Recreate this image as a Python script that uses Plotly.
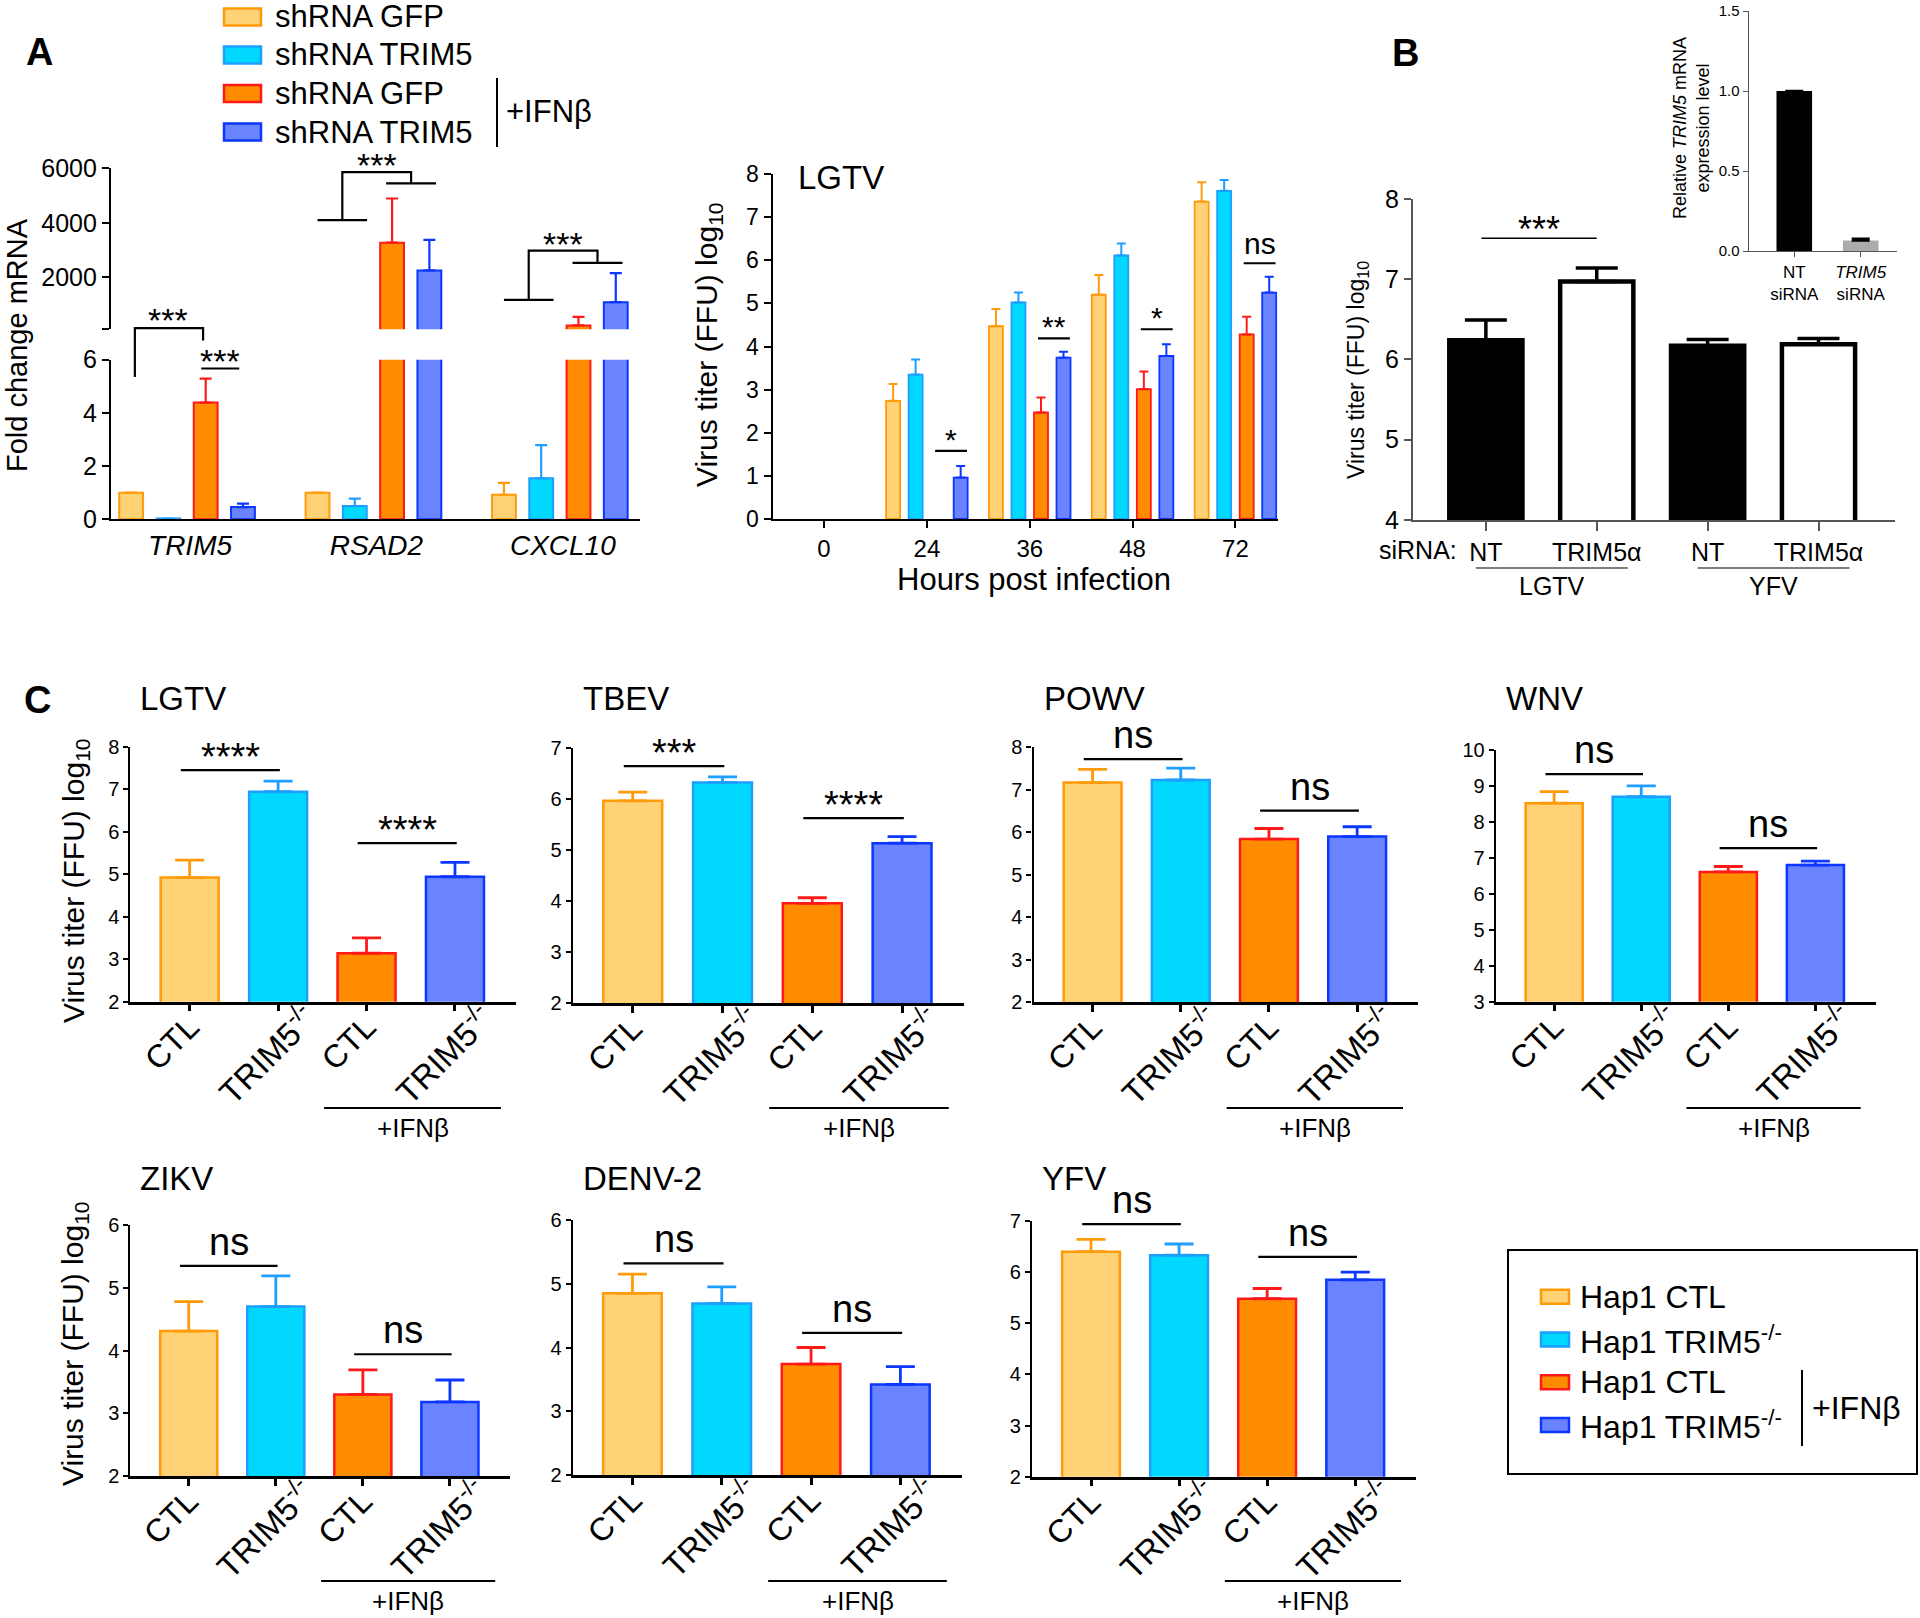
import plotly.graph_objects as go

W, H = 1920, 1618

# condition colours: fill / outline
fills = ["#FFD275", "#00D8FF", "#FF8C00", "#6A84FF"]
edges = ["#FF9A0A", "#1E9EFF", "#FF1A1A", "#0B37FF"]

# ---------------- A: qPCR, fold change ----------------
genes = ["TRIM5", "RSAD2", "CXCL10"]
a_names = ["shRNA GFP", "shRNA TRIM5", "shRNA GFP", "shRNA TRIM5"]
a_gfp = [1.0, 1.0, 0.92]
a_gfp_err = [0, 0, 0.45]
a_trim5 = [0.03, 0.50, 1.54]
a_trim5_err = [0, 0.28, 1.25]
a_gfp_ifn = [4.39, 3276, 240]
a_gfp_ifn_err = [0.90, 1620, 310]
a_trim5_ifn = [0.46, 2255, 1090]
a_trim5_ifn_err = [0.13, 1125, 1070]
# bracket heights
a_trim5_bracket = [5.35, 7.19, 6.72]
a_trim5_pair = 5.67
a_rsad2_bracket = [4100, 5860, 5450]
a_cxcl10_bracket = [1174, 2984, 2530]

# ---------------- A: LGTV time course ----------------
hours = ["0", "24", "36", "48", "72"]
tc_gfp = [None, 2.74, 4.47, 5.20, 7.36]
tc_gfp_err = [None, 0.39, 0.40, 0.46, 0.45]
tc_trim5 = [None, 3.35, 5.02, 6.11, 7.61]
tc_trim5_err = [None, 0.35, 0.23, 0.28, 0.25]
tc_gfp_ifn = [None, None, 2.47, 3.01, 4.28]
tc_gfp_ifn_err = [None, None, 0.35, 0.41, 0.41]
tc_trim5_ifn = [None, 0.96, 3.74, 3.78, 5.25]
tc_trim5_ifn_err = [None, 0.27, 0.14, 0.27, 0.37]
tc_sig = [None, "*", "**", "*", "ns"]
tc_sig_y = [None, 1.58, 4.19, 4.40, 5.93]

# ---------------- B: siRNA ----------------
b_labels = ["NT", "TRIM5α", "NT", "TRIM5α"]
b_viruses = ["LGTV", "YFV"]
b_vals = [6.24, 6.97, 6.17, 6.19]
b_err = [0.25, 0.17, 0.08, 0.07]
b_sig_y = 7.51
inset_labels = ["NT<br>siRNA", "<i>TRIM5</i><br>siRNA"]
inset_vals = [1.0, 0.065]
inset_err = [0, 0.012]

# ---------------- C: knockout cells ----------------
c_viruses = ["LGTV", "TBEV", "POWV", "WNV", "ZIKV", "DENV-2", "YFV"]
c_ctl_tick = "CTL"
c_ko_tick = "TRIM5<sup>-/-</sup>"
c_names = ["Hap1 CTL", "Hap1 TRIM5<sup>-/-</sup>", "Hap1 CTL", "Hap1 TRIM5<sup>-/-</sup>"]
c_ymin = [2, 2, 2, 3, 2, 2, 2]
c_ymax = [8, 7, 8, 10, 6, 6, 7]
c_ctl = [4.92, 5.97, 7.17, 8.52, 4.31, 4.85, 6.40]
c_ctl_err = [0.41, 0.17, 0.31, 0.32, 0.47, 0.30, 0.24]
c_ko = [6.94, 6.33, 7.23, 8.70, 4.70, 4.69, 6.33]
c_ko_err = [0.25, 0.11, 0.28, 0.30, 0.49, 0.26, 0.22]
c_ctl_ifn = [3.14, 3.96, 5.84, 6.61, 3.30, 3.74, 5.48]
c_ctl_ifn_err = [0.36, 0.11, 0.25, 0.15, 0.39, 0.26, 0.20]
c_ko_ifn = [4.94, 5.14, 5.90, 6.80, 3.18, 3.42, 5.85]
c_ko_ifn_err = [0.34, 0.13, 0.23, 0.11, 0.35, 0.28, 0.15]
c_sig1 = ["****", "***", "ns", "ns", "ns", "ns", "ns"]
c_sig1_y = [7.45, 6.65, 7.72, 9.33, 5.35, 5.32, 6.94]
c_sig2 = ["****", "****", "ns", "ns", "ns", "ns", "ns"]
c_sig2_y = [5.73, 5.63, 6.51, 7.27, 3.94, 4.23, 6.30]

FONT = "Liberation Sans, Arial, Helvetica, sans-serif"


def pfx(p):
    return p / W


def pfy(p):
    return 1 - p / H


fig = go.Figure()
lay = {}
ann = []
shp = []


def axis_pair(n, x0, x1, ytop, ybot, xrange, yrange, xstyle=None, ystyle=None):
    s = "" if n == 1 else str(n)
    base = dict(showgrid=False, zeroline=False, fixedrange=True, automargin=False)
    xa = dict(base, domain=[pfx(x0), pfx(x1)], range=xrange, anchor="y" + s)
    ya = dict(base, domain=[pfy(ybot), pfy(ytop)], range=yrange, anchor="x" + s)
    xa.update(xstyle or {})
    ya.update(ystyle or {})
    lay["xaxis" + s] = xa
    lay["yaxis" + s] = ya
    return "x" + s, "y" + s


def line_style(size, color="black", lw=2.2, ticklen=7, ticks="outside"):
    return dict(showline=True, linecolor=color, linewidth=lw, ticks=ticks,
                ticklen=ticklen, tickwidth=lw, tickcolor=color,
                tickfont=dict(size=size, color="black"))


def add_bars(xs, ys, errs, k, xr, yr, width, lw, cap, thick,
             fill=None, edge=None, ecolor=None):
    fig.add_trace(go.Bar(
        x=xs, y=ys, width=width, xaxis=xr, yaxis=yr,
        marker=dict(color=fill if fill is not None else fills[k],
                    line=dict(color=edge if edge is not None else edges[k], width=lw)),
        error_y=dict(type="data", symmetric=False, array=errs,
                     arrayminus=[0] * len(errs),
                     color=ecolor if ecolor is not None else edges[k],
                     thickness=thick, width=cap),
        showlegend=False, hoverinfo="skip"))


def sig(xr, yr, xa, xb, y, label, size, lw=2.2, dy=0):
    shp.append(dict(type="line", xref=xr, yref=yr, x0=xa, x1=xb, y0=y, y1=y,
                    line=dict(color="black", width=lw)))
    star = label.startswith("*")
    ann.append(dict(xref=xr, yref=yr, x=(xa + xb) / 2, y=y, text=label,
                    showarrow=False, yanchor="bottom",
                    yshift=((-0.36 * size + 4) if star else 1) - dy,
                    font=dict(size=size, color="black")))


def txt(x, y, text, size, xanchor="center", angle=0, bold=False):
    ann.append(dict(xref="paper", yref="paper", x=pfx(x), y=pfy(y),
                    text="<b>%s</b>" % text if bold else text, showarrow=False,
                    xanchor=xanchor, yanchor="middle", textangle=angle,
                    font=dict(size=size, color="black")))


# ======================= A left: fold change =======================
a_series = [(a_gfp, a_gfp_err), (a_trim5, a_trim5_err),
            (a_gfp_ifn, a_gfp_ifn_err), (a_trim5_ifn, a_trim5_ifn_err)]
a_xr = [-0.54, 13.65]
xa1, ya1 = axis_pair(
    1, 111, 640, 359.7, 519.3, a_xr, [0, 6],
    xstyle=dict(showline=True, linecolor="black", linewidth=2.2, ticks="",
                tickvals=[g * 5 + 1.5 for g in range(len(genes))],
                ticktext=["<i>%s</i>" % g for g in genes],
                tickfont=dict(size=28, color="black"), ticklabelshift=3),
    ystyle=dict(line_style(25), tickvals=[0, 2, 4, 6]))
xa2, ya2 = axis_pair(
    2, 111, 640, 168.4, 329.2, a_xr, [100, 6000],
    xstyle=dict(visible=False),
    ystyle=dict(line_style(25), tickvals=[100, 2000, 4000, 6000],
                ticktext=["", "2000", "4000", "6000"]))
xa3, ya3 = axis_pair(3, 111, 640, 519.3 - 7.35 * 26.6, 519.3, a_xr, [0, 7.35],
                     xstyle=dict(visible=False), ystyle=dict(visible=False))
fig.add_trace(go.Scatter(x=[None], y=[None], xaxis=xa3, yaxis=ya3,
                         showlegend=False, hoverinfo="skip"))

for k, (vals, errs) in enumerate(a_series):
    xs = [g * 5 + k for g in range(len(genes))]
    add_bars(xs, vals, errs, k, xa1, ya1, 0.64, 2, 6, 2.2)
    add_bars(xs, vals, errs, k, xa2, ya2, 0.64, 2, 6, 2.2)

# TRIM5 brackets (lower segment)
lb, top, rb = a_trim5_bracket
shp.append(dict(type="path", xref=xa3, yref=ya3,
                path="M 0.1,%g L 0.1,%g L 1.93,%g L 1.93,%g" % (lb, top, top, rb),
                line=dict(color="black", width=2.2)))
ann.append(dict(xref=xa3, yref=ya3, x=1.0, y=top, text="***", showarrow=False,
                yanchor="bottom", yshift=-0.36 * 34 - 1, font=dict(size=34, color="black")))
sig(xa3, ya3, 1.88, 2.9, a_trim5_pair, "***", 34, dy=5)


def group_bracket(g, ys, label):
    yl, ytop, yr_ = ys
    l0, l1 = g * 5, g * 5 + 1.33
    r0, r1 = g * 5 + 1.84, g * 5 + 3.18
    lm, rm = (l0 + l1) / 2, (r0 + r1) / 2
    shp.append(dict(type="path", xref=xa2, yref=ya2,
                    path="M %g,%g L %g,%g M %g,%g L %g,%g L %g,%g L %g,%g M %g,%g L %g,%g" % (
                        l0, yl, l1, yl, lm, yl, lm, ytop, rm, ytop, rm, yr_, r0, yr_, r1, yr_),
                    line=dict(color="black", width=2.2)))
    ann.append(dict(xref=xa2, yref=ya2, x=(lm + rm) / 2, y=ytop, text=label,
                    showarrow=False, yanchor="bottom", yshift=-0.36 * 34 - 2,
                    font=dict(size=34, color="black")))


group_bracket(1, a_rsad2_bracket, "***")
group_bracket(2, a_cxcl10_bracket, "***")
txt(17, 345, "Fold change mRNA", 29, angle=-90)

# legend A
a_rows = [17, 55, 93.5, 132]
for k, ry in enumerate(a_rows):
    shp.append(dict(type="rect", xref="paper", yref="paper",
                    x0=pfx(224), x1=pfx(261), y0=pfy(ry + 8.5), y1=pfy(ry - 8.5),
                    fillcolor=fills[k], line=dict(color=edges[k], width=2.5)))
    txt(273, ry, a_names[k], 31, xanchor="left")
shp.append(dict(type="line", xref="paper", yref="paper", x0=pfx(497), x1=pfx(497),
                y0=pfy(78), y1=pfy(147), line=dict(color="black", width=2)))
txt(504, 111, "+IFNβ", 31, xanchor="left")
txt(39, 52, "A", 38, bold=True)

# ======================= A middle: time course =======================
tc_series = [(tc_gfp, tc_gfp_err), (tc_trim5, tc_trim5_err),
             (tc_gfp_ifn, tc_gfp_ifn_err), (tc_trim5_ifn, tc_trim5_ifn_err)]
xa4, ya4 = axis_pair(
    4, 772.6, 1277.6, 174, 519, [-0.5, 4.41], [0, 8],
    xstyle=dict(line_style(24), tickvals=list(range(len(hours))), ticktext=hours),
    ystyle=dict(line_style(23), tickvals=list(range(0, 9))))
step = 0.219
for k, (vals, errs) in enumerate(tc_series):
    xs = [g + (k - 1.5) * step for g in range(len(hours))]
    add_bars(xs, vals, errs, k, xa4, ya4, 0.136, 1.8, 4.5, 2)
for g, lab in enumerate(tc_sig):
    if lab:
        sig(xa4, ya4, g + 0.08, g + 0.39, tc_sig_y[g], lab, 30)
txt(796, 177, "LGTV", 33, xanchor="left")
txt(709, 345, "Virus titer (FFU) log<sub>10</sub>", 30, angle=-90)
txt(1034, 580, "Hours post infection", 31)

# ======================= B: siRNA =======================
gray = "#555555"
xa5, ya5 = axis_pair(
    5, 1412.7, 1895, 198.9, 520, [-0.66, 3.69], [4, 8],
    xstyle=dict(line_style(25, color=gray, lw=1.5, ticklen=9),
                tickvals=list(range(len(b_labels))), ticktext=b_labels),
    ystyle=dict(line_style(25, color=gray, lw=1.5), tickvals=[4, 5, 6, 7, 8]))
add_bars(list(range(len(b_vals))), b_vals, b_err, 0, xa5, ya5, 0.66, 4.5, 21, 3.5,
         fill=["black", "white", "black", "white"], edge="black", ecolor="black")
sig(xa5, ya5, -0.04, 1.0, b_sig_y, "***", 36, lw=1.5, dy=5)
for i, v in enumerate(b_viruses):
    a0, a1 = 2 * i - 0.09, 2 * i + 1.28
    shp.append(dict(type="line", xref=xa5, yref="paper", x0=a0, x1=a1,
                    y0=pfy(568), y1=pfy(568), line=dict(color=gray, width=1.5)))
    ann.append(dict(xref=xa5, yref="paper", x=(a0 + a1) / 2, y=pfy(586), text=v,
                    showarrow=False, yanchor="middle", font=dict(size=25, color="black")))
txt(1418, 550, "siRNA:", 25)
txt(1357, 370, "Virus titer (FFU) log<sub>10</sub>", 23, angle=-90)
txt(1405, 53, "B", 38, bold=True)

# inset
xa6, ya6 = axis_pair(
    6, 1748.8, 1897, 11, 251, [-0.685, 1.547], [0, 1.5],
    xstyle=dict(line_style(17, color=gray, lw=1.3, ticklen=5),
                tickvals=[0, 1], ticktext=inset_labels),
    ystyle=dict(line_style(15, color=gray, lw=1.3, ticklen=5),
                tickvals=[0, 0.5, 1.0, 1.5], ticktext=["0.0", "0.5", "1.0", "1.5"]))
add_bars([0, 1], inset_vals, inset_err, 0, xa6, ya6, 0.536, 0, 9, 2.5,
         fill=["black", "#ABABAB"], edge="black", ecolor="black")
txt(1692, 128, "Relative <i>TRIM5</i> mRNA<br>expression level", 18, angle=-90)

# ======================= C: knockout panels =======================
c_boxes = [(130.4, 516, 746.7, 1001.7), (572.6, 964, 748.3, 1003.3),
           (1033.5, 1418, 747.3, 1002.3), (1495.8, 1875.5, 750, 1001.7),
           (130.4, 510, 1225, 1476), (572.6, 962, 1220, 1475),
           (1032, 1416, 1221, 1476.7)]
c_series = [(c_ctl, c_ctl_err), (c_ko, c_ko_err),
            (c_ctl_ifn, c_ctl_ifn_err), (c_ko_ifn, c_ko_ifn_err)]
c_xr = [-0.67, 3.69]
for j, virus in enumerate(c_viruses):
    x0, x1, yt, yb = c_boxes[j]
    n = 7 + j
    xr, yr = axis_pair(
        n, x0, x1, yt, yb, c_xr, [c_ymin[j], c_ymax[j]],
        xstyle=dict(line_style(32, lw=2.5), tickvals=[0, 1, 2, 3],
                    ticktext=[c_ctl_tick, "", c_ctl_tick, ""],
                    tickangle=-45, ticklabelstandoff=-16),
        ystyle=dict(line_style(20, lw=2.2, ticklen=5),
                    tickvals=list(range(c_ymin[j], c_ymax[j] + 1))))
    # second x axis on top of the first one, carrying the knockout labels
    ko = "xaxis%d" % (n + 20)
    lay[ko] = dict(overlaying=xr, anchor=yr, range=c_xr, showgrid=False, zeroline=False,
                   fixedrange=True, automargin=False, showline=False, ticks="",
                   tickvals=[1, 3], ticktext=[c_ko_tick, c_ko_tick], tickangle=-45,
                   tickfont=dict(size=33, color="black"),
                   ticklabelstandoff=-10, ticklabelshift=29)
    fig.add_trace(go.Scatter(x=[None], y=[None], xaxis="x%d" % (n + 20), yaxis=yr,
                             showlegend=False, hoverinfo="skip"))
    for k, (vals, errs) in enumerate(c_series):
        add_bars([k], [vals[j]], [errs[j]], k, xr, yr, 0.656, 2.5, 14.5, 2.8)
    sig(xr, yr, -0.1, 1.02, c_sig1_y[j], c_sig1[j], 38)
    sig(xr, yr, 1.9, 3.02, c_sig2_y[j], c_sig2[j], 38)
    uy = 1108 if j < 4 else 1581
    shp.append(dict(type="line", xref=xr, yref="paper", x0=1.52, x1=3.52,
                    y0=pfy(uy), y1=pfy(uy), line=dict(color="black", width=2)))
    ann.append(dict(xref=xr, yref="paper", x=2.52, y=pfy(uy + 20), text="+IFNβ",
                    showarrow=False, yanchor="middle", font=dict(size=26, color="black")))
    ty = 698 if j < 4 else 1178
    txt(x0 + 8, ty, virus, 33, xanchor="left")

txt(76, 881, "Virus titer (FFU) log<sub>10</sub>", 30, angle=-90)
txt(74, 1344, "Virus titer (FFU) log<sub>10</sub>", 30, angle=-90)
txt(37, 700, "C", 38, bold=True)

# legend C
shp.append(dict(type="rect", xref="paper", yref="paper", x0=pfx(1508), x1=pfx(1917),
                y0=pfy(1474), y1=pfy(1250), line=dict(color="black", width=2)))
c_rows = [1296.7, 1339.5, 1382.3, 1425]
for k, ry in enumerate(c_rows):
    shp.append(dict(type="rect", xref="paper", yref="paper",
                    x0=pfx(1541), x1=pfx(1569), y0=pfy(ry + 7), y1=pfy(ry - 7),
                    fillcolor=fills[k], line=dict(color=edges[k], width=2.5)))
    txt(1578, ry, c_names[k], 32, xanchor="left")
shp.append(dict(type="line", xref="paper", yref="paper", x0=pfx(1802), x1=pfx(1802),
                y0=pfy(1370), y1=pfy(1446), line=dict(color="black", width=2)))
txt(1810, 1408, "+IFNβ", 32, xanchor="left")

fig.update_layout(
    width=W, height=H, margin=dict(l=0, r=0, t=0, b=0, pad=0, autoexpand=False),
    paper_bgcolor="white", plot_bgcolor="rgba(0,0,0,0)",
    barmode="overlay", showlegend=False,
    font=dict(family=FONT, color="black"),
    annotations=ann, shapes=shp, **lay)

fig.write_html("out.html", config={"displayModeBar": False},
               post_script="document.body.style.margin='0';document.body.style.overflow='hidden';")
